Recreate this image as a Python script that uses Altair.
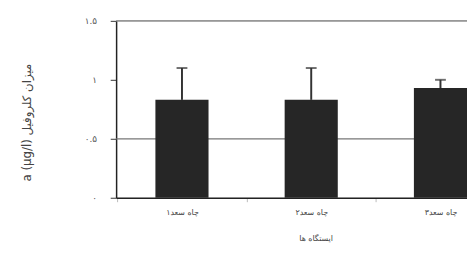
import altair as alt
import pandas as pd

stations = ["چاه سعد۱", "چاه سعد۲", "چاه سعد۳"]
means = [0.83, 0.83, 0.93]
errors = [0.27, 0.27, 0.07]
y_ticks = [0, 0.5, 1, 1.5]
y_tick_labels = ["۰", "۰.۵", "۱", "۱.۵"]
grid_values = [0.5, 1.5]
y_title = "\u2067میزان کلروفیل a (µg/l)\u2069"
x_title = "ایستگاه ها"

df = pd.DataFrame({"station": stations, "mean": means, "err": errors})
df["top"] = df["mean"] + df["err"]
grid_df = pd.DataFrame({"v": grid_values})

label_expr = " : ".join(
    f"datum.value == {v} ? '{l}'" for v, l in zip(y_ticks, y_tick_labels)
) + " : ''"

FONT = "DejaVu Sans"
yscale = alt.Scale(domain=[0, 1.5], nice=False, zero=True)
xscale = alt.Scale(range=[0, 397], paddingInner=0.589, paddingOuter=0.304)

x_axis = alt.Axis(
    title=x_title,
    labelAngle=0,
    labelFont=FONT,
    labelFontSize=8,
    labelColor="#444",
    labelPadding=7,
    tickOffset=-65.75,
    labelOffset=65.75,
    tickSize=4,
    tickColor="#bbb",
    domainColor="#222",
    domainWidth=1.5,
    grid=False,
    titleFont=FONT,
    titleFontSize=8,
    titleFontWeight="normal",
    titleColor="#444",
    titleX=203,
    titleY=42,
    titleBaseline="middle",
)

y_axis = alt.Axis(
    title=y_title,
    values=y_ticks,
    labelExpr=label_expr,
    labelFont=FONT,
    labelFontSize=9,
    labelColor="#555",
    labelPadding=14,
    tickSize=6,
    tickColor="#333",
    domainColor="#222",
    domainWidth=1.5,
    grid=False,
    titleFont=FONT,
    titleFontSize=12,
    titleFontWeight="normal",
    titleColor="#444",
    titleX=-91,
    titleY=103,
    titleAngle=270,
    titleBaseline="middle",
)

x_enc = alt.X("station:N", sort=stations, scale=xscale, axis=x_axis)

bars = alt.Chart(df).mark_bar(color="#262626").encode(
    x=x_enc,
    y=alt.Y("mean:Q", scale=yscale, axis=y_axis),
)

grid = alt.Chart(grid_df).mark_rule(color="#777", strokeWidth=1.2).encode(
    y=alt.Y("v:Q", scale=yscale, axis=y_axis),
)

err_rule = alt.Chart(df).mark_rule(color="#333", strokeWidth=2).encode(
    x=x_enc,
    y=alt.Y("mean:Q", scale=yscale, axis=y_axis),
    y2="top:Q",
)

err_cap = alt.Chart(df).mark_tick(color="#333", thickness=2, size=11).encode(
    x=x_enc,
    y=alt.Y("top:Q", scale=yscale, axis=y_axis),
)

chart = alt.layer(grid, bars, err_rule, err_cap).properties(
    width=357,
    height=180,
    autosize=alt.AutoSizeParams(type="none"),
    padding={"left": 110, "top": 11, "right": 0, "bottom": 46},
).configure_view(stroke=None).configure(background="white")

chart.save("out.html", embed_options={"renderer": "svg", "actions": False})
